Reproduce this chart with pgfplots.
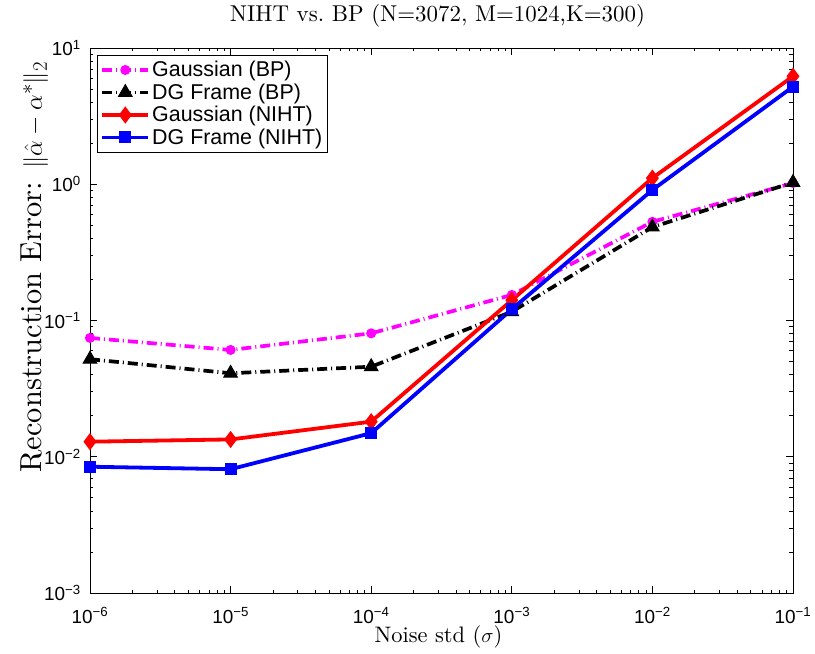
\documentclass[border=0pt]{standalone}
\usepackage{fontspec}
\setmainfont{lmroman10-regular}[Extension=.otf, BoldFont=lmroman10-bold, ItalicFont=lmroman10-italic]
\usepackage{pgfplots}
\pgfplotsset{compat=1.18}
\newfontfamily\helv{Liberation Sans}
\definecolor{mag}{rgb}{1,0,1}
\pgfplotstableread{
x y
1e-6 0.0745
1e-5 0.0608
1e-4 0.0805
1e-3 0.154
1e-2 0.53
1e-1 1.02
}\gbp
\pgfplotstableread{
x y
1e-6 0.052
1e-5 0.041
1e-4 0.0458
1e-3 0.116
1e-2 0.485
1e-1 1.03
}\dgbp
\pgfplotstableread{
x y
1e-6 0.0129
1e-5 0.0134
1e-4 0.0181
1e-3 0.141
1e-2 1.11
1e-1 6.2
}\gniht
\pgfplotstableread{
x y
1e-6 0.00845
1e-5 0.0081
1e-4 0.0149
1e-3 0.121
1e-2 0.908
1e-1 5.2
}\dgniht
\begin{document}
\begin{tikzpicture}
\begin{axis}[
  scale only axis, width=703bp, height=545bp,
  xmode=log, ymode=log,
  xmin=1e-6, xmax=1e-1, ymin=1e-3, ymax=1e1,
  xtick={1e-6,1e-5,1e-4,1e-3,1e-2,1e-1},
  xticklabels={10\textsuperscript{−6},10\textsuperscript{−5},10\textsuperscript{−4},10\textsuperscript{−3},10\textsuperscript{−2},10\textsuperscript{−1}},
  ytick={1e-3,1e-2,1e-1,1,10},
  yticklabels={10\textsuperscript{−3},10\textsuperscript{−2},10\textsuperscript{−1},10\textsuperscript{0},10\textsuperscript{1}},
  tick label style={font=\helv\fontsize{19}{22}\selectfont, inner sep=0pt},
  xticklabel style={anchor=base, yshift=-30bp},
  yticklabel style={xshift=-9bp},
  tick align=inside,
  major tick length=7bp, minor tick length=3.5bp,
  tick style={black, line width=0.6bp},
  axis line style={line width=0.8bp},
  title={NIHT vs.\ BP (N=3072, M=1024,K=300)},
  title style={font=\fontsize{23}{27}\selectfont, inner sep=0pt, at={(axis description cs:0.5,1)}, anchor=base, yshift=21bp, xshift=-4bp},
  xlabel={Noise std ($\sigma$)},
  xlabel style={font=\fontsize{22.5}{27}\selectfont, inner sep=0pt, at={(axis description cs:0.4957,-0.0899)}, anchor=base},
  ylabel={Reconstruction Error: $\|\hat{\alpha}-\alpha^{*}\|_2$},
  ylabel style={font=\fontsize{30.5}{34}\selectfont, inner sep=0pt, at={(axis description cs:-0.0683,0.598)}, anchor=base},
  legend style={at={(axis description cs:0.01,0.987)}, anchor=north west,
    font=\helv\fontsize{21.5}{25}\selectfont, draw=black, line width=0.8bp,
    cells={anchor=west}, row sep=1.5bp, inner xsep=3bp, inner ysep=4bp},
  legend image code/.code={\draw[mark repeat=2,mark phase=2,#1] plot coordinates {(0bp,0bp) (23bp,0bp) (46bp,0bp)};},
]
\addplot[mag, line width=3.7bp, dash pattern=on 10bp off 4bp on 1bp off 4bp,
  mark=*, mark size=4.5bp, mark options={solid, fill=mag, line width=1bp}] table[x=x,y=y] {\gbp};
\addlegendentry{Gaussian (BP)}
\addplot[black, line width=3.7bp, dash pattern=on 10bp off 4bp on 1bp off 4bp,
  mark=triangle*, mark size=7.8bp, mark options={solid, fill=black, line width=1bp}] table[x=x,y=y] {\dgbp};
\addlegendentry{DG Frame (BP)}
\addplot[red, line width=3.8bp, mark=diamond*, mark size=7.8bp, mark options={solid, fill=red, line width=1bp}] table[x=x,y=y] {\gniht};
\addlegendentry{Gaussian (NIHT)}
\addplot[blue, line width=3.8bp, mark=square*, mark size=5.5bp, mark options={solid, fill=blue, line width=1bp}] table[x=x,y=y] {\dgniht};
\addlegendentry{DG Frame (NIHT)}
\end{axis}
\pgfresetboundingbox
\path[use as bounding box] ([xshift=-90bp,yshift=-61bp]current axis.south west) rectangle ([xshift=22bp,yshift=48bp]current axis.north east);
\end{tikzpicture}
\end{document}
